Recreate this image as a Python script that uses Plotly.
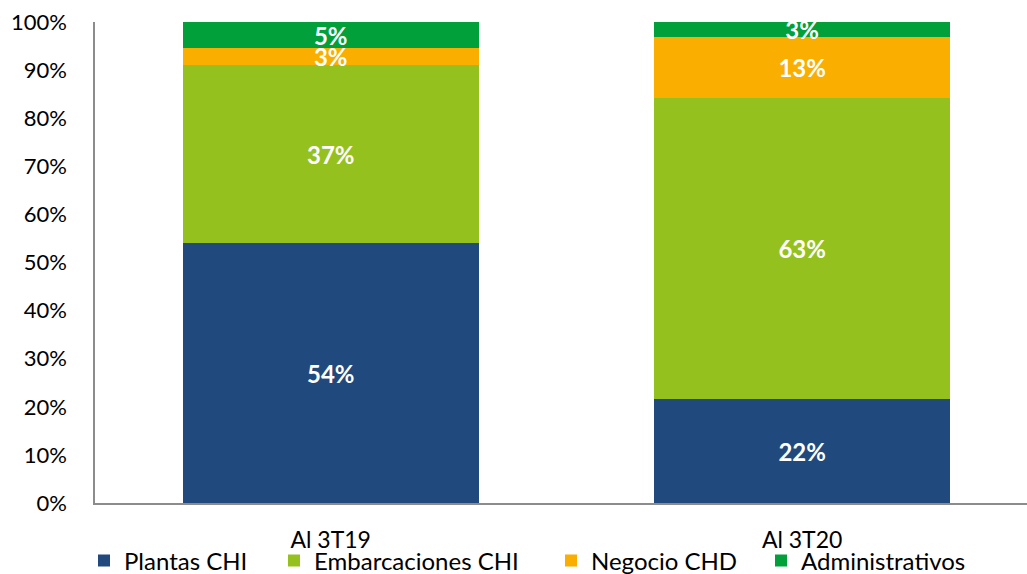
import plotly.graph_objects as go

categories = ["Al 3T19", "Al 3T20"]
series_names = ["Plantas CHI", "Embarcaciones CHI", "Negocio CHD", "Administrativos"]
plantas = [54.0, 21.6]
embarcaciones = [37.1, 62.7]
negocio = [3.4, 12.6]
administrativos = [5.4, 3.1]
colors = ["#20497D", "#95C11F", "#FAAE00", "#02A03A"]
y_ticks = list(range(0, 101, 10))
y_tick_labels = [f"{v}%" for v in y_ticks]

FONT = "Lato"
W, H = 1027, 574
L, R, T, B = 95, 0, 22, 71
plot_w = W - L - R

fig = go.Figure()
all_values = [plantas, embarcaciones, negocio, administrativos]
legend_text_px = [125, 315, 592, 802]
for i, (name, vals, col) in enumerate(zip(series_names, all_values, colors)):
    lg = "legend" if i == 0 else f"legend{i+1}"
    fig.add_trace(go.Bar(
        x=categories, y=vals, name=name, marker_color=col,
        marker_line_width=0, width=0.628,
        text=[f"{v:.0f}%" for v in vals], textposition="inside",
        insidetextanchor="middle", textangle=0,
        textfont=dict(family=FONT, size=24, color="white", weight="bold"),
        legend=lg,
    ))

layout_legends = {}
for i, px in enumerate(legend_text_px):
    key = "legend" if i == 0 else f"legend{i+1}"
    layout_legends[key] = dict(
        x=(px - 41 - L) / plot_w, xanchor="left",
        y=(H - B - 561) / (H - T - B), yanchor="middle",
        orientation="h", bgcolor="rgba(0,0,0,0)",
        font=dict(family=FONT, size=24, color="#000000"),
        borderwidth=0,
    )

fig.update_layout(
    barmode="stack",
    width=W, height=H,
    margin=dict(l=L, r=R, t=T, b=B, pad=0, autoexpand=False),
    paper_bgcolor="white", plot_bgcolor="white",
    uniformtext=dict(minsize=24, mode="show"),
    font=dict(family=FONT, size=22, color="#000000"),
    showlegend=True,
    **layout_legends,
)
fig.update_xaxes(
    range=[-0.5, 1.477], showgrid=False, showline=True, linecolor="#8C8C8C",
    linewidth=1.5, ticks="", ticklabelstandoff=16,
    tickfont=dict(family=FONT, size=23, color="#000000"),
)
fig.update_yaxes(
    range=[0, 100], tickvals=y_ticks, ticktext=y_tick_labels,
    showgrid=False, showline=True, linecolor="#8C8C8C", linewidth=1.5,
    ticks="", ticklabelstandoff=22, zeroline=False,
    tickfont=dict(family=FONT, size=22, color="#000000"),
)
fig.write_html(
    "out.html",
    config={"displayModeBar": False},
    post_script="document.body.style.margin='0px';document.body.style.overflow='hidden';",
)
